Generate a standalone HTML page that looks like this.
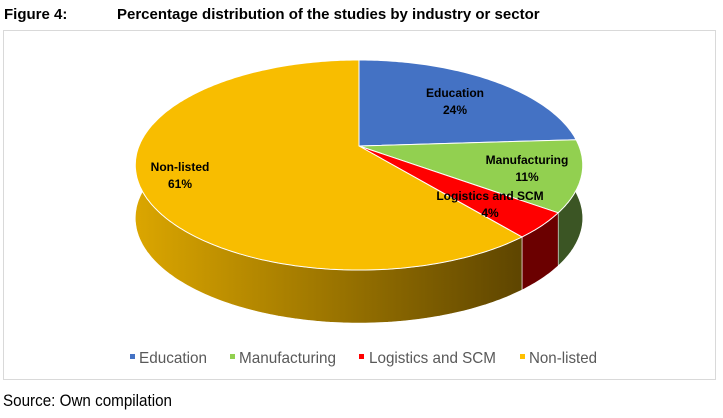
<!DOCTYPE html>
<html><head><meta charset="utf-8"><style>
body{margin:0;width:723px;height:418px;background:#fff;overflow:hidden;font-family:"Liberation Sans",sans-serif;}
svg{position:absolute;left:0;top:0}
</style></head><body>
<svg width="723" height="418">
<defs>
<linearGradient id="gNon" x1="0" x2="1" y1="0" y2="0">
<stop offset="0" stop-color="#dba600"/><stop offset="1" stop-color="#5e4500"/></linearGradient>
</defs>
<text x="4" y="19" font-size="15" font-weight="bold" fill="#000">Figure 4:</text>
<text x="117" y="19" font-size="15" font-weight="bold" fill="#000">Percentage distribution of the studies by industry or sector</text>
<rect x="3.5" y="30.5" width="712" height="349" fill="none" stroke="#d9d9d9"/>
<g id="sides"></g><g id="tops"></g><g id="labels"></g>
<g font-size="16" fill="#595959">
<rect x="130" y="354" width="5" height="5" fill="#4472c4"/>
<text x="139" y="363" textLength="68" lengthAdjust="spacingAndGlyphs">Education</text>
<rect x="230" y="354" width="5" height="5" fill="#92d050"/>
<text x="239" y="363" textLength="97" lengthAdjust="spacingAndGlyphs">Manufacturing</text>
<rect x="359" y="354" width="5" height="5" fill="#ff0000"/>
<text x="369" y="363" textLength="127" lengthAdjust="spacingAndGlyphs">Logistics and SCM</text>
<rect x="520" y="354" width="5" height="5" fill="#ffc000"/>
<text x="529" y="363" textLength="68" lengthAdjust="spacingAndGlyphs">Non-listed</text>
</g>
<text x="3" y="406" font-size="17" fill="#000" textLength="169" lengthAdjust="spacingAndGlyphs">Source: Own compilation</text>
</svg>
<script>
const categories=["Education","Manufacturing","Logistics and SCM","Non-listed"];
const values=[24,11,4,61];
const printed=["24%","11%","4%","61%"];
const topColors=["#4472c4","#92d050","#ff0000","#f8bd00"];
const sideColors=["#2f4f8a","#3b5524","#6b0000","url(#gNon)"];
const labelPos=[[455,97],[527,164],[490,200],[180,171]];
const NS="http://www.w3.org/2000/svg";
const cx=359,cy=146,Sx=220,Sy=101.6,k=0.181,depth=53;
function proj(a){const u=Math.sin(a),v=-Math.cos(a);const d=1-k*v;return [cx+Sx*u/d,cy+Sy*v/d];}
const total=values.reduce((a,b)=>a+b,0);
const sides=document.getElementById('sides'),tops=document.getElementById('tops'),labels=document.getElementById('labels');
let start=0;
const slices=values.map((v,i)=>{const a0=start/total*2*Math.PI;start+=v;const a1=start/total*2*Math.PI;return [a0,a1];});
slices.forEach(([a0,a1],i)=>{
  const pts=[];const n=Math.max(4,Math.ceil((a1-a0)*60));
  for(let j=0;j<=n;j++)pts.push(proj(a0+(a1-a0)*j/n));
  const side=pts.map(p=>p[0].toFixed(1)+','+p[1].toFixed(1)).concat(pts.slice().reverse().map(p=>p[0].toFixed(1)+','+(p[1]+depth).toFixed(1)));
  const s=document.createElementNS(NS,'polygon');
  s.setAttribute('points',side.join(' '));s.setAttribute('fill',sideColors[i]);
  s.setAttribute('stroke','#fff');s.setAttribute('stroke-width','0.6');
  
  
  sides.appendChild(s);
  const t=document.createElementNS(NS,'polygon');
  t.setAttribute('points',[cx+','+cy].concat(pts.map(p=>p[0].toFixed(1)+','+p[1].toFixed(1))).join(' '));
  t.setAttribute('fill',topColors[i]);t.setAttribute('stroke','#fff');t.setAttribute('stroke-width','1');
  
  
  tops.appendChild(t);
  [categories[i],printed[i]].forEach((txt,r)=>{
    const l=document.createElementNS(NS,'text');
    l.setAttribute('x',labelPos[i][0]);l.setAttribute('y',labelPos[i][1]+r*17);
    l.setAttribute('text-anchor','middle');l.setAttribute('font-size','12');l.setAttribute('font-weight','bold');
    l.textContent=txt;
    
    
    labels.appendChild(l);
  });
});
</script>
</body></html>
